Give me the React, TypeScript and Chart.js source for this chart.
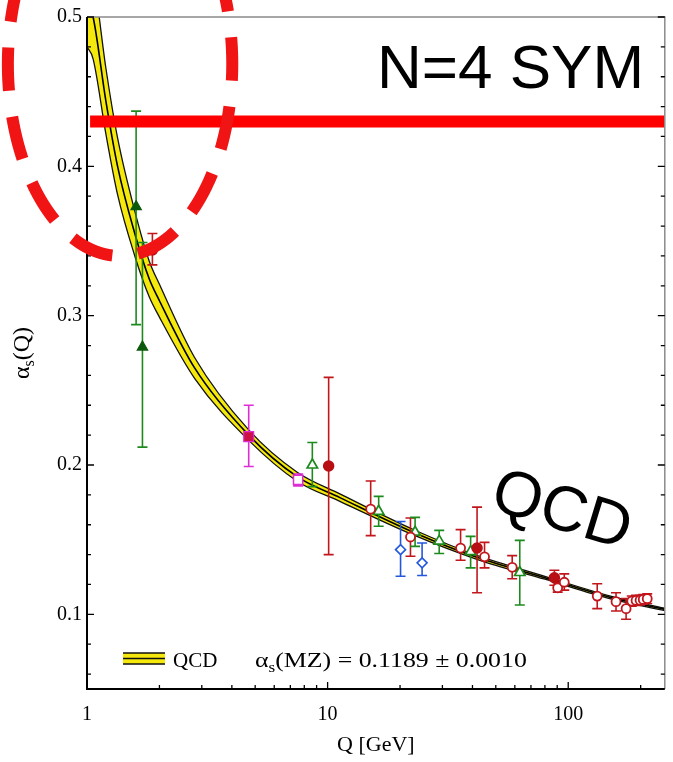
import React, { useEffect, useRef } from "react";
import { Chart, registerables } from "chart.js";

Chart.register(...registerables);

// ---------- axes ----------
const X_MIN = 1;
const X_MAX = 252;
const Y_MIN = 0.05;
const Y_MAX = 0.5;
const X_LABEL_TICKS = [1, 10, 100];
const X_MINOR_TICKS = [2, 3, 4, 5, 6, 7, 8, 9, 20, 30, 40, 50, 60, 70, 80, 90, 200];
const Y_LABEL_TICKS = [0.1, 0.2, 0.3, 0.4, 0.5];
const Y_MINOR_TICKS = [0.06, 0.08, 0.12, 0.14, 0.16, 0.18, 0.22, 0.24, 0.26, 0.28, 0.32, 0.34, 0.36, 0.38, 0.42, 0.44, 0.46, 0.48];

// ---------- QCD band ----------
const QCD_Q = [1.0, 1.06, 1.2, 1.34, 1.58, 1.81, 2.0, 2.8, 4.7, 7.5, 11.3, 22.7, 42, 80, 150, 252];
const QCD_CENTER = [0.51, 0.5, 0.443, 0.4, 0.355, 0.325, 0.31, 0.265, 0.22, 0.192, 0.178, 0.155, 0.138, 0.1245, 0.1113, 0.1033];
const QCD_UPPER = [0.54, 0.528, 0.465, 0.419, 0.37, 0.337, 0.321, 0.272, 0.2235, 0.195, 0.1805, 0.1568, 0.1393, 0.1255, 0.1122, 0.1041];
const QCD_LOWER = [0.48, 0.472, 0.421, 0.381, 0.34, 0.313, 0.299, 0.258, 0.2165, 0.189, 0.1755, 0.1532, 0.1367, 0.1235, 0.1104, 0.1025];

// ---------- N=4 SYM line ----------
const SYM_Q = [1.03, 252];
const SYM_ALPHA = [0.43, 0.43];

// ---------- dashed ellipse (data bounds) ----------
const ELLIPSE_Q = [0.469, 4.015];
const ELLIPSE_ALPHA = [0.34, 0.597];

// ---------- measurements ----------
const RED_OPEN_Q = [15.1, 22.1, 35.7, 44.9, 58.5, 90.4, 96.3, 132, 158, 174, 183.7, 191.4, 198.9, 205, 213];
const RED_OPEN_A = [0.1705, 0.1518, 0.1444, 0.1385, 0.1315, 0.1178, 0.1215, 0.1122, 0.1085, 0.1038, 0.1089, 0.1093, 0.1095, 0.11, 0.1105];
const RED_OPEN_LO = [0.1527, 0.1389, 0.1362, 0.1311, 0.1238, 0.1149, 0.1162, 0.1038, 0.1022, 0.0967, 0.1055, 0.106, 0.1062, 0.1068, 0.1073];
const RED_OPEN_HI = [0.1893, 0.1645, 0.1567, 0.1482, 0.1393, 0.1211, 0.1271, 0.1205, 0.1145, 0.1105, 0.1123, 0.1127, 0.1128, 0.1132, 0.1137];

const RED_FILLED_Q = [1.87, 10.1, 41.8, 87.6];
const RED_FILLED_A = [0.344, 0.1993, 0.1444, 0.1245];
const RED_FILLED_LO = [0.334, 0.14, 0.1145, 0.1195];
const RED_FILLED_HI = [0.355, 0.2587, 0.1718, 0.1295];

const GREEN_FILLED_Q = [1.6, 1.7];
const GREEN_FILLED_A = [0.373, 0.279];
const GREEN_FILLED_LO = [0.294, 0.212];
const GREEN_FILLED_HI = [0.437, 0.349];

const GREEN_OPEN_Q = [8.64, 16.3, 23.1, 29.1, 39.3, 62.9];
const GREEN_OPEN_A = [0.2, 0.169, 0.155, 0.149, 0.142, 0.128];
const GREEN_OPEN_LO = [0.1855, 0.159, 0.1455, 0.1407, 0.1311, 0.1062];
const GREEN_OPEN_HI = [0.2151, 0.179, 0.1649, 0.1562, 0.1522, 0.1495];

const BLUE_OPEN_Q = [20.1, 24.7];
const BLUE_OPEN_A = [0.1433, 0.1345];
const BLUE_OPEN_LO = [0.1255, 0.126];
const BLUE_OPEN_HI = [0.1622, 0.1478];

const MAGENTA_FILLED_Q = [4.7];
const MAGENTA_FILLED_A = [0.219];
const MAGENTA_FILLED_LO = [0.199];
const MAGENTA_FILLED_HI = [0.24];

const MAGENTA_CROSS_Q = [7.54];
const MAGENTA_CROSS_A = [0.19];
const MAGENTA_CROSS_LO = [0.186];
const MAGENTA_CROSS_HI = [0.194];

// ---------- texts ----------
const X_TITLE = "Q [GeV]";
const SYM_TEXT = "N=4 SYM";
const QCD_TEXT = "QCD";
const LEGEND_LABEL = "QCD";
const LEGEND_FORMULA = "(MZ) = 0.1189 \u00b1 0.0010";

// ---------- colours ----------
const YELLOW = "#f4e80c";
const RED = "#c0161c";
const GREEN = "#1d8a1d";
const DARK_GREEN = "#0b5a0b";
const BLUE = "#2458dc";
const MAGENTA = "#e02cd6";
const SERIF = "'Liberation Serif', 'Times New Roman', serif";
const SANS = "'Liberation Sans', Arial, sans-serif";

const ERROR_GROUPS = [
  { q: RED_OPEN_Q, lo: RED_OPEN_LO, hi: RED_OPEN_HI, color: RED },
  { q: RED_FILLED_Q, lo: RED_FILLED_LO, hi: RED_FILLED_HI, color: RED },
  { q: GREEN_FILLED_Q, lo: GREEN_FILLED_LO, hi: GREEN_FILLED_HI, color: GREEN },
  { q: GREEN_OPEN_Q, lo: GREEN_OPEN_LO, hi: GREEN_OPEN_HI, color: GREEN },
  { q: BLUE_OPEN_Q, lo: BLUE_OPEN_LO, hi: BLUE_OPEN_HI, color: BLUE },
  { q: MAGENTA_FILLED_Q, lo: MAGENTA_FILLED_LO, hi: MAGENTA_FILLED_HI, color: MAGENTA },
  { q: MAGENTA_CROSS_Q, lo: MAGENTA_CROSS_LO, hi: MAGENTA_CROSS_HI, color: MAGENTA },
];

const pts = (xs: number[], ys: number[]) => xs.map((x, i) => ({ x, y: ys[i] }));

function markers(label: string, qs: number[], as: number[], style: string, radius: number, fill: string, border: string, bw: number) {
  return {
    label,
    data: pts(qs, as),
    showLine: false,
    pointStyle: style,
    pointRadius: radius,
    pointHoverRadius: radius,
    pointBackgroundColor: fill,
    pointBorderColor: border,
    pointBorderWidth: bw,
    order: 2,
  };
}

function drawParts(ctx: CanvasRenderingContext2D, parts: any[], x: number, y: number, align: string) {
  let w = 0;
  parts.forEach((p) => {
    ctx.font = `${p.size}px ${SERIF}`;
    w += ctx.measureText(p.text).width;
  });
  let cx = align === "center" ? x - w / 2 : x;
  ctx.textAlign = "left";
  ctx.textBaseline = "alphabetic";
  parts.forEach((p) => {
    ctx.font = `${p.size}px ${SERIF}`;
    ctx.fillText(p.text, cx, y + (p.dy || 0));
    cx += ctx.measureText(p.text).width;
  });
}

// dashed ellipse drawn dash by dash (arc length measured explicitly)
function dashedEllipse(ctx: CanvasRenderingContext2D, cx: number, cy: number, a: number, b: number, nDash: number, dashFrac: number, startPhase: number) {
  const N = 4000;
  const P: number[][] = [];
  const S: number[] = [];
  let s = 0;
  for (let i = 0; i <= N; i++) {
    const t = (i / N) * Math.PI * 2;
    const p = [cx + a * Math.cos(t), cy + b * Math.sin(t)];
    if (i > 0) {
      const q = P[i - 1];
      s += Math.hypot(p[0] - q[0], p[1] - q[1]);
    }
    P.push(p);
    S.push(s);
  }
  const period = s / nDash;
  const dash = period * dashFrac;
  const on = (v: number) => ((v + startPhase) % period + period) % period < dash;
  let run: number[][] = [];
  const flush = () => {
    if (run.length > 1) {
      ctx.beginPath();
      ctx.moveTo(run[0][0], run[0][1]);
      for (let k = 1; k < run.length; k++) ctx.lineTo(run[k][0], run[k][1]);
      ctx.stroke();
    }
    run = [];
  };
  for (let i = 0; i <= N; i++) {
    if (on(S[i])) run.push(P[i]);
    else flush();
  }
  flush();
}

const overlay = {
  id: "overlay",
  afterDatasetDraw(chart: any, args: any) {
    if (args.index !== 2) return;
    const { ctx, chartArea, scales } = chart;
    const xs = scales.x;
    const ys = scales.y;
    ctx.save();
    ctx.beginPath();
    ctx.rect(chartArea.left, chartArea.top, chartArea.right - chartArea.left, chartArea.bottom - chartArea.top);
    ctx.clip();
    ctx.lineWidth = 1.6;
    ERROR_GROUPS.forEach((g) => {
      ctx.strokeStyle = g.color;
      g.q.forEach((q: number, i: number) => {
        const px = xs.getPixelForValue(q);
        const y1 = ys.getPixelForValue(g.lo[i]);
        const y2 = ys.getPixelForValue(g.hi[i]);
        ctx.beginPath();
        ctx.moveTo(px, y1);
        ctx.lineTo(px, y2);
        ctx.moveTo(px - 5, y1);
        ctx.lineTo(px + 5, y1);
        ctx.moveTo(px - 5, y2);
        ctx.lineTo(px + 5, y2);
        ctx.stroke();
      });
    });
    ctx.restore();
  },
  afterDraw(chart: any) {
    const { ctx, chartArea, scales } = chart;
    const xs = scales.x;
    const ys = scales.y;
    const { left, right, top, bottom } = chartArea;
    ctx.save();
    // frame
    ctx.lineCap = "butt";
    ctx.strokeStyle = "#8a8a8a";
    ctx.lineWidth = 1.5;
    ctx.beginPath();
    ctx.moveTo(left, top);
    ctx.lineTo(right, top);
    ctx.lineTo(right, bottom);
    ctx.stroke();
    ctx.strokeStyle = "#000";
    ctx.lineWidth = 2;
    ctx.beginPath();
    ctx.moveTo(left, top);
    ctx.lineTo(left, bottom);
    ctx.lineTo(right, bottom);
    ctx.stroke();
    // inner ticks
    ctx.lineWidth = 1.3;
    ctx.strokeStyle = "#000";
    const tick = (v: number, len: number, axis: string) => {
      ctx.beginPath();
      if (axis === "x") {
        const p = xs.getPixelForValue(v);
        ctx.moveTo(p, bottom);
        ctx.lineTo(p, bottom - len);
      } else {
        const p = ys.getPixelForValue(v);
        ctx.moveTo(left, p);
        ctx.lineTo(left + len, p);
        ctx.moveTo(right, p);
        ctx.lineTo(right - len, p);
      }
      ctx.stroke();
    };
    X_LABEL_TICKS.forEach((v) => tick(v, 7, "x"));
    X_MINOR_TICKS.forEach((v) => tick(v, 4, "x"));
    Y_LABEL_TICKS.forEach((v) => tick(v, 7, "y"));
    Y_MINOR_TICKS.forEach((v) => tick(v, 4, "y"));

    ctx.fillStyle = "#000";
    // y title
    ctx.save();
    ctx.translate(29, (top + bottom) / 2);
    ctx.rotate(-Math.PI / 2);
    drawParts(ctx, [
      { text: "\u03b1", size: 24 },
      { text: "s", size: 16, dy: 5 },
      { text: "(Q)", size: 24 },
    ], 0, 0, "center");
    ctx.restore();

    // legend
    const ly = 658.5;
    ctx.fillStyle = YELLOW;
    ctx.fillRect(123, ly - 5.5, 42, 11);
    ctx.strokeStyle = "#111";
    ctx.lineWidth = 1.4;
    [ly - 5.5, ly, ly + 5.5].forEach((yy) => {
      ctx.beginPath();
      ctx.moveTo(123, yy);
      ctx.lineTo(165, yy);
      ctx.stroke();
    });
    ctx.fillStyle = "#000";
    drawParts(ctx, [{ text: LEGEND_LABEL, size: 21 }], 173, 667, "left");
    ctx.save();
    ctx.translate(255, 667);
    ctx.scale(1.23, 1);
    drawParts(ctx, [
      { text: "\u03b1", size: 21 },
      { text: "s", size: 14, dy: 5 },
      { text: LEGEND_FORMULA, size: 21 },
    ], 0, 0, "left");
    ctx.restore();

    // N=4 SYM
    ctx.font = `62px ${SANS}`;
    ctx.textAlign = "left";
    ctx.textBaseline = "alphabetic";
    ctx.fillText(SYM_TEXT, 377, 88);

    // QCD annotation
    ctx.save();
    ctx.translate(563, 507);
    ctx.rotate((17 * Math.PI) / 180);
    ctx.font = `64px ${SANS}`;
    ctx.textAlign = "center";
    ctx.fillText(QCD_TEXT, 0, 23);
    ctx.restore();

    // dashed ellipse
    const ex1 = xs.getPixelForValue(ELLIPSE_Q[0]);
    const ex2 = xs.getPixelForValue(ELLIPSE_Q[1]);
    const ey1 = ys.getPixelForValue(ELLIPSE_ALPHA[0]);
    const ey2 = ys.getPixelForValue(ELLIPSE_ALPHA[1]);
    ctx.strokeStyle = "#f01414";
    ctx.lineWidth = 12;
    ctx.lineCap = "butt";
    ctx.lineJoin = "round";
    dashedEllipse(ctx, (ex1 + ex2) / 2, (ey1 + ey2) / 2, Math.abs(ex2 - ex1) / 2, Math.abs(ey1 - ey2) / 2, 14, 0.63, 27);
    ctx.restore();
  },
};

export default function App() {
  const ref = useRef<HTMLCanvasElement>(null);
  useEffect(() => {
    const canvas = ref.current;
    if (!canvas) return;
    const datasets: any[] = [
      {
        label: "QCD upper",
        data: pts(QCD_Q, QCD_UPPER),
        borderColor: "#111",
        borderWidth: 1.3,
        pointRadius: 0,
        fill: false,
        cubicInterpolationMode: "monotone",
        order: 9,
      },
      {
        label: "QCD lower",
        data: pts(QCD_Q, QCD_LOWER),
        borderColor: "#111",
        borderWidth: 1.3,
        pointRadius: 0,
        fill: "-1",
        backgroundColor: YELLOW,
        cubicInterpolationMode: "monotone",
        order: 8,
      },
      {
        label: "QCD",
        data: pts(QCD_Q, QCD_CENTER),
        borderColor: "#000",
        borderWidth: 1.6,
        pointRadius: 0,
        fill: false,
        cubicInterpolationMode: "monotone",
        order: 7,
      },
      markers("red filled", RED_FILLED_Q, RED_FILLED_A, "circle", 5, "#b80f14", "#b80f14", 1.5),
      markers("red open", RED_OPEN_Q, RED_OPEN_A, "circle", 4.5, "#ffffff", RED, 1.8),
      markers("green filled", GREEN_FILLED_Q, GREEN_FILLED_A, "triangle", 6, DARK_GREEN, DARK_GREEN, 1.2),
      markers("green open", GREEN_OPEN_Q, GREEN_OPEN_A, "triangle", 6, "#ffffff", GREEN, 1.7),
      markers("blue open", BLUE_OPEN_Q, BLUE_OPEN_A, "rectRot", 5, "#ffffff", BLUE, 1.6),
      markers("magenta filled", MAGENTA_FILLED_Q, MAGENTA_FILLED_A, "rect", 7, "#cc1144", MAGENTA, 1.2),
      markers("magenta open", MAGENTA_CROSS_Q, MAGENTA_CROSS_A, "rect", 6.5, "#ffffff", MAGENTA, 1.5),
      markers("magenta cross", MAGENTA_CROSS_Q, MAGENTA_CROSS_A, "crossRot", 4, "#ffffff", MAGENTA, 1.2),
      {
        label: "N=4 SYM",
        data: pts(SYM_Q, SYM_ALPHA),
        borderColor: "#ff0000",
        borderWidth: 12,
        borderCapStyle: "butt",
        pointRadius: 0,
        fill: false,
        order: 0,
      },
    ];
    const chart = new Chart(canvas, {
      type: "line",
      data: { datasets },
      options: {
        animation: false,
        responsive: false,
        events: [],
        layout: { padding: { top: 15, right: 1, left: 0, bottom: 0 } },
        plugins: {
          legend: { display: false },
          tooltip: { enabled: false },
          filler: { drawTime: "beforeDatasetsDraw" },
        } as any,
        scales: {
          x: {
            type: "logarithmic",
            min: X_MIN,
            max: X_MAX,
            grid: { display: false, drawTicks: false },
            border: { display: false },
            afterBuildTicks: (axis: any) => {
              axis.ticks = X_LABEL_TICKS.map((v) => ({ value: v, major: true }));
            },
            afterFit: (s: any) => {
              s.height = 73;
            },
            ticks: {
              autoSkip: false,
              maxRotation: 0,
              padding: 14,
              color: "#000",
              font: { family: SERIF, size: 20 },
              callback: (v: any) => String(v),
            },
            title: {
              display: true,
              text: X_TITLE,
              color: "#000",
              font: { family: SERIF, size: 22 },
              padding: { top: 0, bottom: 4 },
            },
          },
          y: {
            type: "linear",
            min: Y_MIN,
            max: Y_MAX,
            grid: { display: false, drawTicks: false },
            border: { display: false },
            afterBuildTicks: (axis: any) => {
              axis.ticks = Y_LABEL_TICKS.map((v) => ({ value: v }));
            },
            afterFit: (s: any) => {
              s.width = 87;
            },
            ticks: {
              padding: 5,
              color: "#000",
              font: { family: SERIF, size: 20 },
              callback: (v: any) => Number(v).toFixed(1),
            },
          },
        },
      } as any,
      plugins: [overlay],
    });
    return () => chart.destroy();
  }, []);
  return (
    <div style={{ position: "absolute", left: 0, top: 0, width: 673, height: 762, background: "#fff" }}>
      <canvas ref={ref} width={673} height={762} style={{ display: "block", width: 673, height: 762 }} />
    </div>
  );
}
